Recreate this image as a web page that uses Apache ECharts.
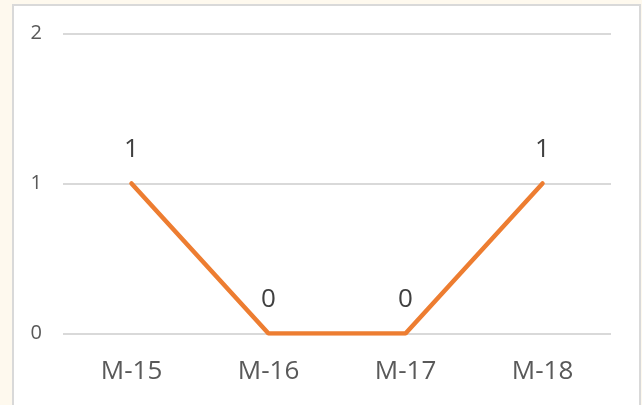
<!DOCTYPE html>
<html>
<head>
<meta charset="utf-8">
<script src="https://cdn.jsdelivr.net/npm/echarts@6/dist/echarts.min.js"></script>
<style>
  html, body { margin: 0; padding: 0; background: #fef9ee; }
  #panel {
    position: absolute; left: 12px; top: 4px; width: 625px; height: 410px;
    background: #fff; border: 2px solid #d9d9d9;
  }
  #chart { position: absolute; left: 0; top: 0; width: 642px; height: 405px; }
</style>
</head>
<body>
<div id="panel"></div>
<div id="chart"></div>
<script>
const categories = ['M-15', 'M-16', 'M-17', 'M-18']
const values = [1, 0, 0, 1]
const yTicks = [0, 1, 2]

const chart = echarts.init(document.getElementById('chart'))
const font = '"Open Sans", sans-serif'
chart.setOption({
  animation: false,
  grid: { left: 63, right: 31, top: 33.5, height: 300 },
  xAxis: {
    type: 'category',
    data: categories,
    axisLine: { show: false },
    axisTick: { show: false },
    axisLabel: { color: '#595959', fontSize: 26, fontFamily: font, margin: 25 }
  },
  yAxis: {
    type: 'value',
    min: yTicks[0],
    max: yTicks[yTicks.length - 1],
    interval: 1,
    axisLabel: { color: '#595959', fontSize: 20, fontFamily: font, margin: 21 },
    splitLine: { lineStyle: { color: '#d9d9d9', width: 2 } }
  },
  series: [{
    type: 'line',
    data: values,
    symbol: 'circle',
    symbolSize: 1,
    itemStyle: { color: '#ed7d31' },
    lineStyle: { color: '#ed7d31', width: 4.5, cap: 'round' },
    label: {
      show: true,
      position: 'top',
      distance: 20,
      color: '#404040',
      fontSize: 26,
      fontFamily: font
    }
  }]
})
</script>
</body>
</html>
